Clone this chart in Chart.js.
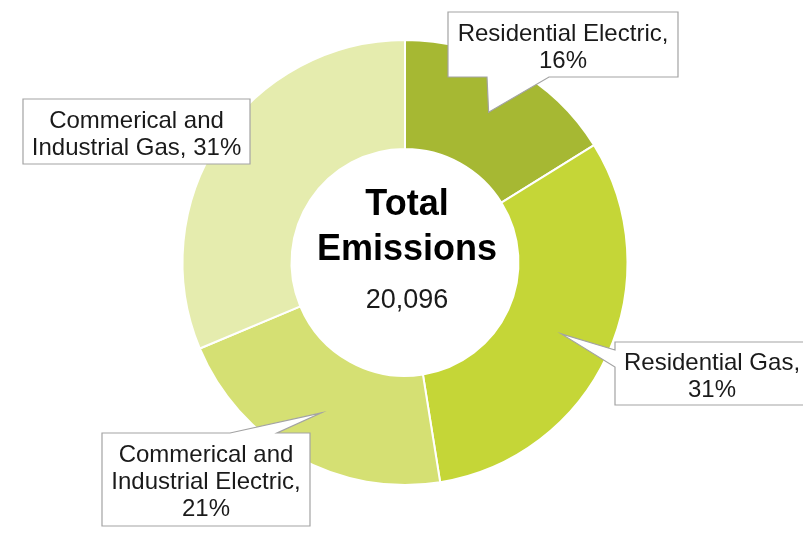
<!DOCTYPE html>
<html>
<head>
<meta charset="utf-8">
<title>Total Emissions</title>
<script src="https://cdn.jsdelivr.net/npm/chart.js@4/dist/chart.umd.min.js"></script>
<style>
	body { margin: 0; background: #fff; }
	canvas { display: block; }
</style>
</head>
<body>
<canvas id="chartCanvas" width="803" height="555"></canvas>
<script>
// emissions split by sector, in percent of total
var sectors = ["Residential Electric", "Residential Gas", "Commerical and Industrial Electric", "Commerical and Industrial Gas"];
var shares = [16, 31, 21, 31];
var totalEmissions = 20096;
// callout text, {p} is replaced by the share
var calloutLines = [
	["Residential Electric,", "{p}"],
	["Residential Gas,", "{p}"],
	["Commerical and", "Industrial Electric,", "{p}"],
	["Commerical and", "Industrial Gas, {p}"]
];
var sliceColors = ["#a6b833", "#c5d637", "#d5e073", "#e5ecae"];

var FONT = "'Liberation Sans', Arial, sans-serif";

// box placement for each callout; wedge = side of box the pointer leaves from + span on that side
var calloutBoxes = [
	{ x: 448, y: 12, w: 230, h: 65, wedge: { side: "bottom", from: 487, to: 549 } },
	{ x: 615, y: 342, w: 194, h: 63, wedge: { side: "left", from: 350, to: 367 } },
	{ x: 102, y: 433, w: 208, h: 93, wedge: { side: "top", from: 230, to: 277 } },
	{ x: 23, y: 99, w: 227, h: 65, wedge: null }
];

var calloutPlugin = {
	id: "callouts",
	afterDatasetsDraw: function(chart) {
		var ctx = chart.ctx;
		var meta = chart.getDatasetMeta(0);
		ctx.save();
		meta.data.forEach(function(arc, i) {
			var box = calloutBoxes[i];
			var p = arc.getProps(["x", "y", "startAngle", "endAngle", "innerRadius", "outerRadius"], true);
			var mid = (p.startAngle + p.endAngle) / 2;
			var r = (p.innerRadius + p.outerRadius) / 2 + 4;
			var tx = p.x + Math.cos(mid) * r;
			var ty = p.y + Math.sin(mid) * r;

			ctx.beginPath();
			ctx.moveTo(box.x, box.y);
			var w = box.wedge;
			if (w && w.side === "top") {
				ctx.lineTo(w.from, box.y); ctx.lineTo(tx, ty); ctx.lineTo(w.to, box.y);
			}
			ctx.lineTo(box.x + box.w, box.y);
			ctx.lineTo(box.x + box.w, box.y + box.h);
			if (w && w.side === "bottom") {
				ctx.lineTo(w.to, box.y + box.h); ctx.lineTo(tx, ty); ctx.lineTo(w.from, box.y + box.h);
			}
			ctx.lineTo(box.x, box.y + box.h);
			if (w && w.side === "left") {
				ctx.lineTo(box.x, w.to); ctx.lineTo(tx, ty); ctx.lineTo(box.x, w.from);
			}
			ctx.closePath();
			ctx.fillStyle = "#ffffff";
			ctx.fill();
			ctx.strokeStyle = "#a3a3a3";
			ctx.lineWidth = 1.2;
			ctx.stroke();

			var lines = calloutLines[i].map(function(s) { return s.replace("{p}", shares[i] + "%"); });
			ctx.fillStyle = "#1a1a1a";
			ctx.font = "24px " + FONT;
			ctx.textAlign = "center";
			ctx.textBaseline = "alphabetic";
			var lh = 27;
			var top = box.y + box.h / 2 - (lines.length * lh) / 2;
			lines.forEach(function(s, k) {
				ctx.fillText(s, box.x + box.w / 2, top + k * lh + 23);
			});
		});

		// centre caption
		var c = meta.data[0];
		ctx.fillStyle = "#000";
		ctx.textAlign = "center";
		ctx.font = "bold 36px " + FONT;
		ctx.fillText("Total", c.x + 2, 215);
		ctx.fillText("Emissions", c.x + 2, 260);
		ctx.font = "27px " + FONT;
		ctx.fillStyle = "#1a1a1a";
		ctx.fillText(totalEmissions.toLocaleString("en-US"), c.x + 2, 308);
		ctx.restore();
	}
};

var ctx = document.getElementById("chartCanvas");
var chart = new Chart(ctx, {
	type: "doughnut",
	data: {
		labels: sectors,
		datasets: [{
			data: shares,
			backgroundColor: sliceColors,
			borderColor: "#ffffff",
			borderWidth: 2
		}]
	},
	options: {
		responsive: false,
		animation: false,
		cutout: "51%",
		layout: { padding: { left: 181, right: 174, top: 39, bottom: 69 } },
		plugins: {
			legend: { display: false },
			tooltip: { enabled: false }
		}
	},
	plugins: [calloutPlugin]
});
</script>
</body>
</html>
